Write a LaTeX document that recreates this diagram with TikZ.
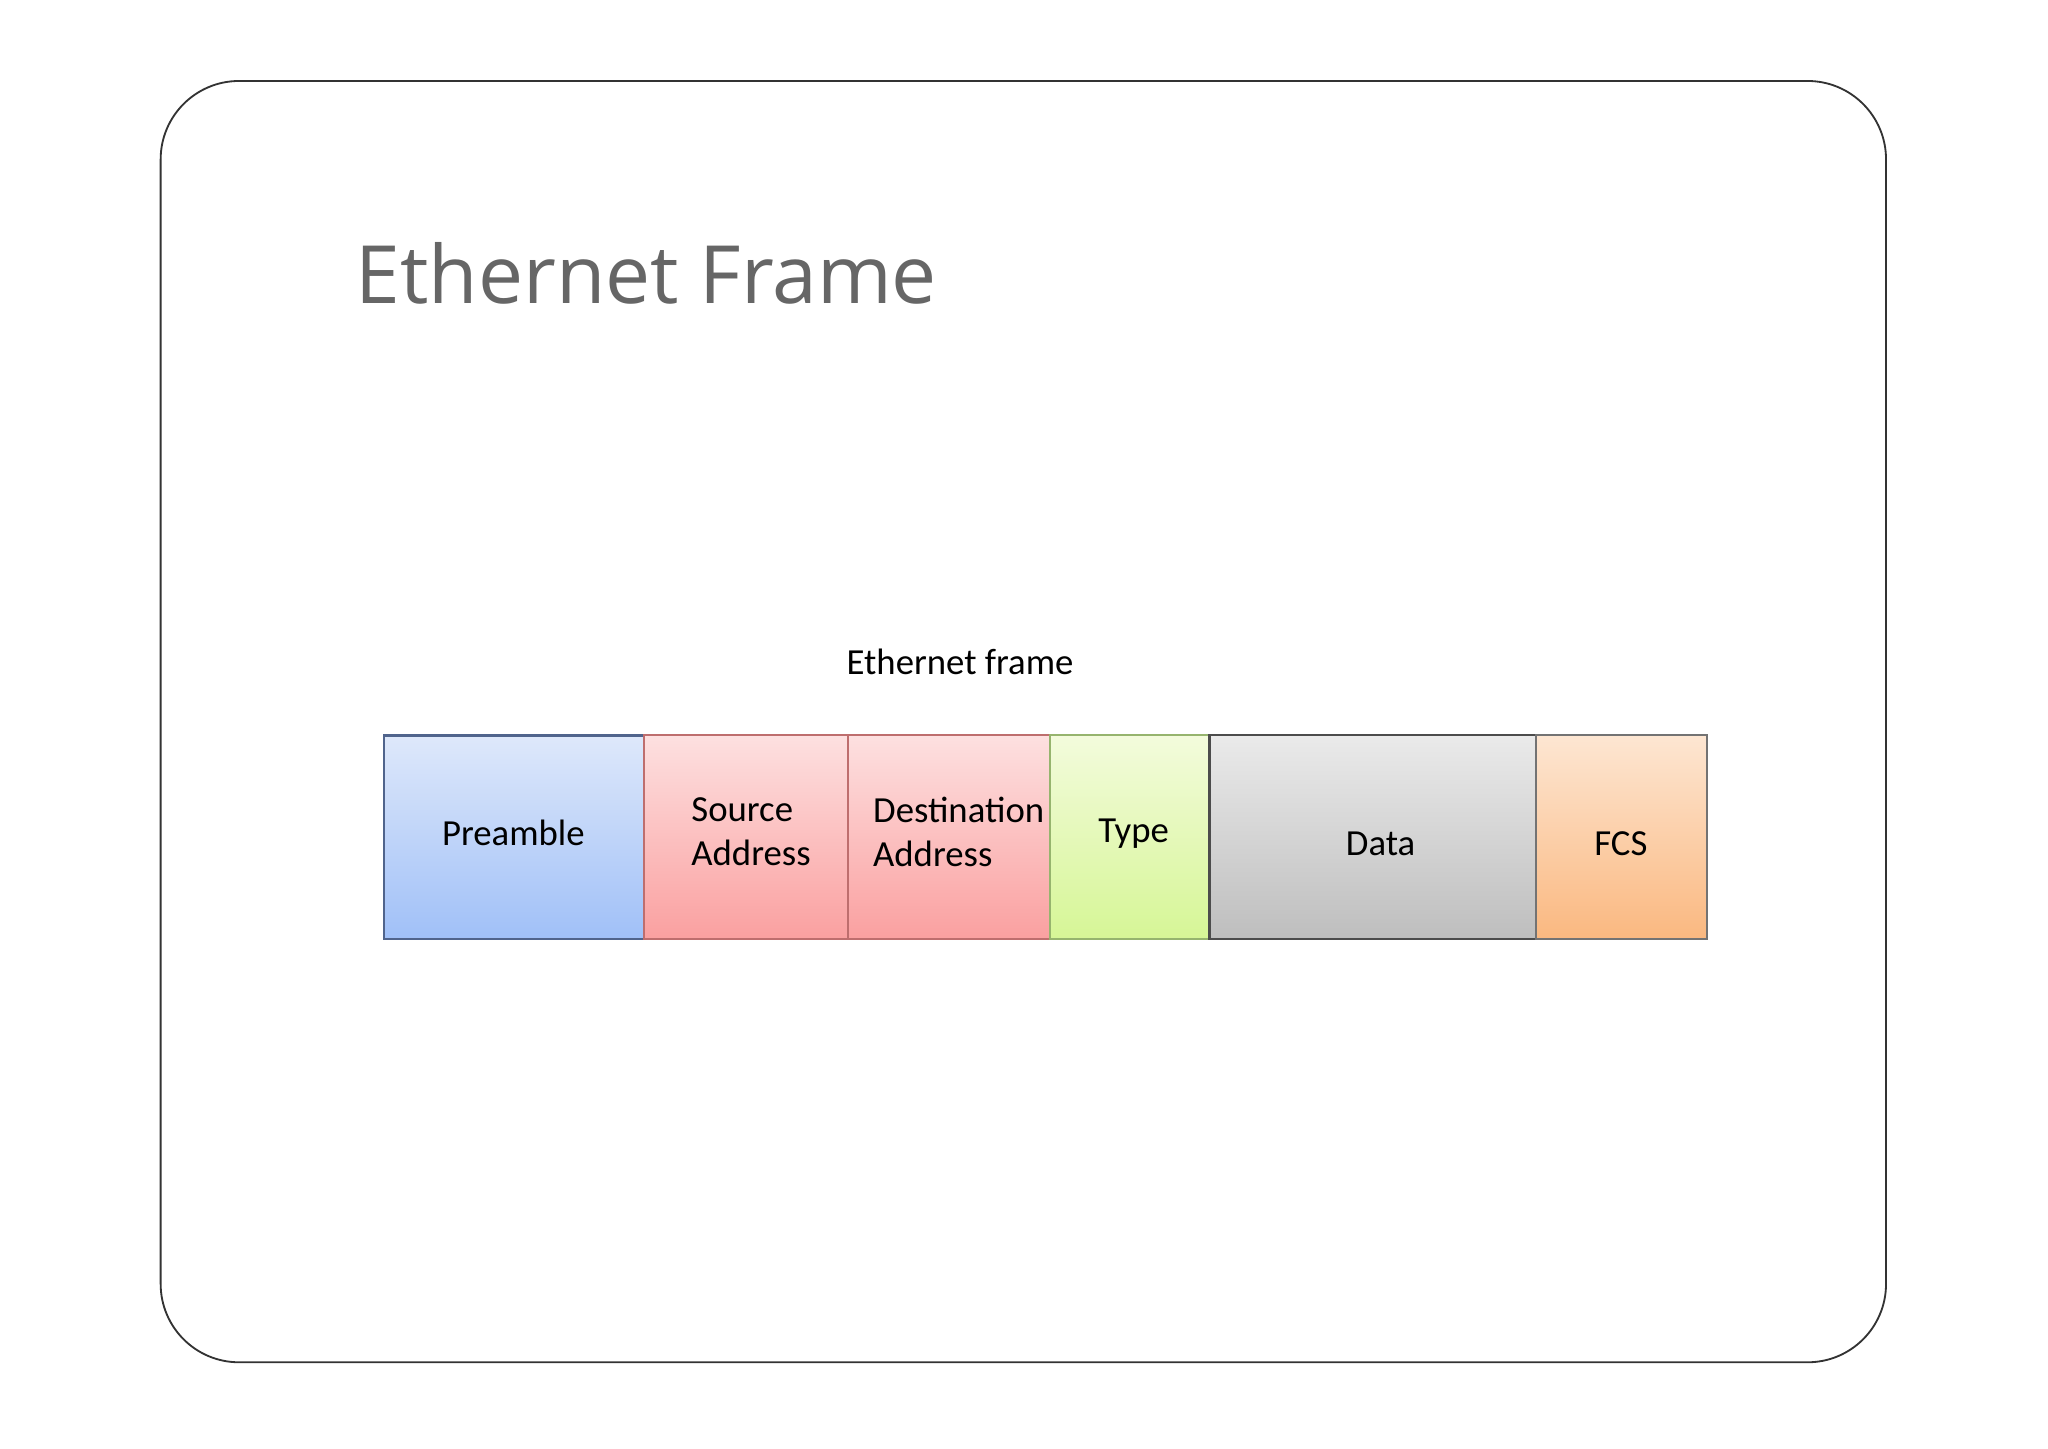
\documentclass[tikz,border=0pt]{standalone}
\usepackage{fontspec}
\setmainfont{Carlito}
\newfontfamily\titlefont{Open Sans}
\begin{document}
\begin{tikzpicture}[x=0.01cm,y=-0.01cm,
  seg/.style={draw=#1, line width=0.6pt, inner sep=0pt, align=left, font=\fontsize{8pt}{9.6pt}\selectfont},
]
\useasboundingbox (0,0) rectangle (1568,1109);
\draw[black!80, line width=0.4pt, rounded corners=0.6cm] (123,62) rectangle (1444,1043);
\node[anchor=base west, text=black!60, font=\titlefont\fontsize{17.5pt}{21pt}\selectfont] (title) at (260,232) {Ethernet Frame};
\node[font=\fontsize{8pt}{10pt}\selectfont] (cap) at (735,507) {Ethernet frame};
\shade[top color={rgb,255:red,222;green,232;blue,250}, bottom color={rgb,255:red,160;green,192;blue,248}] (294,563) rectangle (493,719);
\shade[top color={rgb,255:red,253;green,224;blue,224}, bottom color={rgb,255:red,250;green,160;blue,160}] (493,563) rectangle (804,719);
\shade[top color={rgb,255:red,243;green,251;blue,220}, bottom color={rgb,255:red,214;green,246;blue,150}] (804,563) rectangle (926,719);
\shade[top color={rgb,255:red,234;green,234;blue,234}, bottom color={rgb,255:red,190;green,190;blue,190}] (926,563) rectangle (1176,719);
\shade[top color={rgb,255:red,253;green,230;blue,210}, bottom color={rgb,255:red,250;green,184;blue,128}] (1176,563) rectangle (1307,719);
\draw[draw={rgb,255:red,80;green,100;blue,140}, line width=0.6pt] (294,563) rectangle (493,719);
\draw[draw={rgb,255:red,190;green,110;blue,110}, line width=0.5pt] (493,563) rectangle (649,719) (649,563) rectangle (804,719);
\draw[draw={rgb,255:red,150;green,180;blue,110}, line width=0.5pt] (804,563) rectangle (926,719);
\draw[draw=black!70, line width=0.5pt] (926,563) rectangle (1176,719);
\draw[draw=black!55, line width=0.5pt] (1176,563) rectangle (1307,719);
\node[seg=none] (pre) at (393,638) {Preamble};
\node[seg=none] (src) at (575,637) {Source\\Address};
\node[seg=none] (dst) at (734,637) {Destination\\Address};
\node[seg=none] (typ) at (868,638) {Type};
\node[seg=none] (dat) at (1057,646) {Data};
\node[seg=none] (fcs) at (1241,646) {FCS};
\end{tikzpicture}
\end{document}
